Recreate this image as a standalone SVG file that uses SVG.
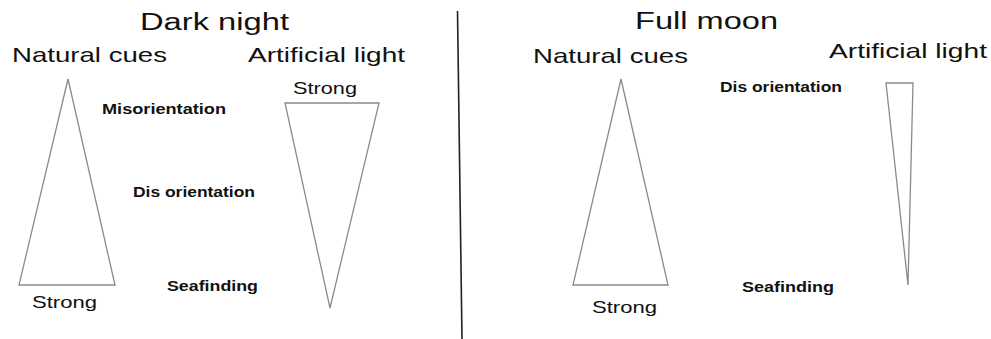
<svg xmlns="http://www.w3.org/2000/svg" width="991" height="339" viewBox="0 0 991 339">
<style>
text{font-family:"Liberation Sans",Arial,sans-serif;fill:#111}
.t{font-size:23px}
.h{font-size:21px}
.s{font-size:17px}
.b{font-size:14px;font-weight:bold}
.tri{fill:none;stroke:#8a8a8a;stroke-width:1.3;stroke-linejoin:miter}
</style>
<rect width="991" height="339" fill="#fff"/>
<g id="divider"><line x1="457.5" y1="11" x2="462" y2="339" stroke="#222" stroke-width="1.6"/></g>
<g id="dark-night">
<text class="t" x="140" y="30" textLength="149" lengthAdjust="spacingAndGlyphs">Dark night</text>
<text class="h" x="12" y="62" textLength="155" lengthAdjust="spacingAndGlyphs">Natural cues</text>
<text class="h" x="248" y="62" textLength="157" lengthAdjust="spacingAndGlyphs">Artificial light</text>
<text class="s" x="293" y="94" textLength="64" lengthAdjust="spacingAndGlyphs">Strong</text>
<polygon class="tri" points="68,79 115,285 19,285"/>
<polygon class="tri" points="285,103 379,103 330,308"/>
<text class="s" x="32" y="308" textLength="65" lengthAdjust="spacingAndGlyphs">Strong</text>
<text class="b" x="102" y="114" textLength="124" lengthAdjust="spacingAndGlyphs">Misorientation</text>
<text class="b" x="133" y="197" textLength="122" lengthAdjust="spacingAndGlyphs">Dis orientation</text>
<text class="b" x="167" y="291" textLength="91" lengthAdjust="spacingAndGlyphs">Seafinding</text>
</g>
<g id="full-moon">
<text class="t" x="635" y="29" textLength="143" lengthAdjust="spacingAndGlyphs">Full moon</text>
<text class="h" x="533" y="63" textLength="155" lengthAdjust="spacingAndGlyphs">Natural cues</text>
<text class="h" x="829" y="58" textLength="158" lengthAdjust="spacingAndGlyphs">Artificial light</text>
<text class="b" x="720" y="92" textLength="122" lengthAdjust="spacingAndGlyphs">Dis orientation</text>
<polygon class="tri" points="621,79 668,285 573,285"/>
<polygon class="tri" points="886,83 913,83 908,285"/>
<text class="s" x="592" y="313" textLength="65" lengthAdjust="spacingAndGlyphs">Strong</text>
<text class="b" x="742" y="292" textLength="92" lengthAdjust="spacingAndGlyphs">Seafinding</text>
</g>
</svg>
